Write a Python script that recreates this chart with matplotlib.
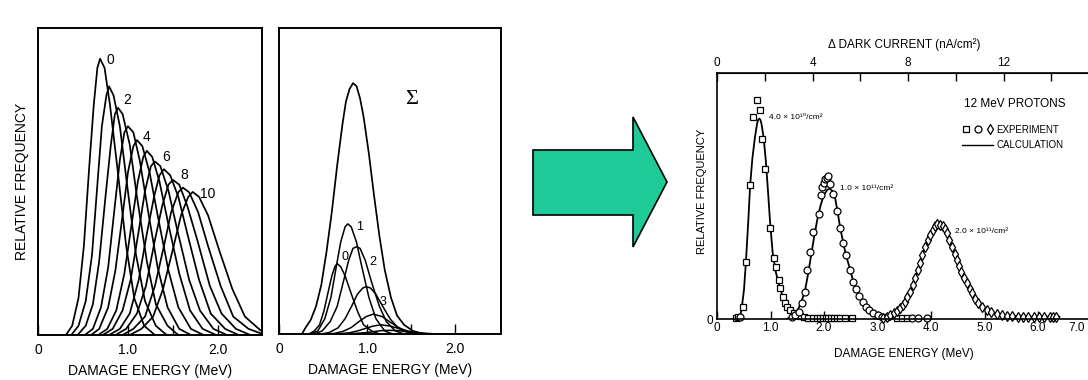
import matplotlib
matplotlib.use('Agg')
import matplotlib.pyplot as plt
import matplotlib.transforms as mtransforms
from matplotlib.patches import Polygon
from matplotlib.lines import Line2D
from matplotlib.legend_handler import HandlerTuple

plt.rcParams['font.family'] = ['Liberation Sans', 'DejaVu Sans']

# ---- left panel: spectra after n collisions (0..10) ----
spec_x = [
    [0.31, 0.38, 0.45, 0.51, 0.57, 0.62, 0.66, 0.69, 0.74, 0.80, 0.88, 0.98, 1.07, 1.18, 1.30],
    [0.37, 0.45, 0.53, 0.60, 0.66, 0.71, 0.76, 0.79, 0.84, 0.91, 0.99, 1.09, 1.19, 1.31, 1.43],
    [0.44, 0.53, 0.61, 0.68, 0.75, 0.81, 0.855, 0.89, 0.94, 1.02, 1.10, 1.21, 1.31, 1.44, 1.56],
    [0.52, 0.61, 0.70, 0.78, 0.85, 0.91, 0.96, 1.00, 1.06, 1.13, 1.22, 1.33, 1.44, 1.57, 1.70],
    [0.59, 0.68, 0.78, 0.86, 0.94, 1.00, 1.06, 1.10, 1.16, 1.24, 1.33, 1.45, 1.56, 1.70, 1.84],
    [0.67, 0.77, 0.87, 0.96, 1.04, 1.11, 1.17, 1.21, 1.27, 1.35, 1.45, 1.57, 1.69, 1.83, 1.98],
    [0.72, 0.83, 0.94, 1.03, 1.12, 1.19, 1.255, 1.30, 1.36, 1.45, 1.55, 1.68, 1.80, 1.95, 2.10],
    [0.79, 0.91, 1.02, 1.12, 1.21, 1.29, 1.35, 1.40, 1.47, 1.56, 1.66, 1.79, 1.92, 2.08, 2.23],
    [0.86, 0.98, 1.10, 1.20, 1.30, 1.38, 1.45, 1.50, 1.57, 1.66, 1.77, 1.91, 2.04, 2.20, 2.36],
    [0.94, 1.06, 1.19, 1.30, 1.40, 1.48, 1.56, 1.61, 1.68, 1.78, 1.89, 2.03, 2.17, 2.34, 2.48],
    [1.02, 1.15, 1.28, 1.39, 1.50, 1.59, 1.67, 1.72, 1.79, 1.89, 2.01, 2.16, 2.30, 2.47, 2.49],
]
spec_y = [
    [0, 0.03, 0.12, 0.29, 0.55, 0.75, 0.87, 0.90, 0.87, 0.75, 0.55, 0.29, 0.12, 0.03, 0],
    [0, 0.03, 0.11, 0.26, 0.49, 0.68, 0.78, 0.81, 0.78, 0.68, 0.49, 0.26, 0.11, 0.03, 0],
    [0, 0.03, 0.10, 0.24, 0.45, 0.62, 0.72, 0.74, 0.72, 0.62, 0.45, 0.24, 0.10, 0.03, 0],
    [0, 0.02, 0.09, 0.22, 0.41, 0.57, 0.66, 0.68, 0.66, 0.57, 0.41, 0.22, 0.09, 0.02, 0],
    [0, 0.02, 0.09, 0.21, 0.39, 0.53, 0.615, 0.635, 0.615, 0.53, 0.39, 0.21, 0.09, 0.02, 0],
    [0, 0.02, 0.08, 0.20, 0.36, 0.50, 0.58, 0.60, 0.58, 0.50, 0.36, 0.20, 0.08, 0.02, 0],
    [0, 0.02, 0.08, 0.18, 0.34, 0.47, 0.55, 0.565, 0.55, 0.47, 0.34, 0.18, 0.08, 0.02, 0],
    [0, 0.02, 0.07, 0.18, 0.33, 0.45, 0.52, 0.54, 0.52, 0.45, 0.33, 0.18, 0.07, 0.02, 0],
    [0, 0.02, 0.07, 0.16, 0.31, 0.42, 0.49, 0.505, 0.49, 0.42, 0.31, 0.16, 0.07, 0.02, 0],
    [0, 0.02, 0.06, 0.16, 0.29, 0.40, 0.465, 0.48, 0.465, 0.40, 0.29, 0.16, 0.06, 0.02, 0.005],
    [0, 0.02, 0.06, 0.15, 0.28, 0.39, 0.45, 0.466, 0.45, 0.39, 0.28, 0.15, 0.06, 0.016, 0.012],
]
spec_labels = ['0', '2', '4', '6', '8', '10']
spec_label_x = [0.80, 0.99, 1.21, 1.42, 1.63, 1.89]
spec_label_y = [0.895, 0.765, 0.645, 0.58, 0.52, 0.46]

# ---- middle panel: weighted components and their sum ----
comp_x = [
    [0.34, 0.40, 0.46, 0.51, 0.56, 0.60, 0.635, 0.66, 0.70, 0.75, 0.81, 0.89, 0.96, 1.05, 1.14],
    [0.36, 0.44, 0.52, 0.59, 0.65, 0.70, 0.75, 0.78, 0.82, 0.88, 0.94, 1.02, 1.10, 1.20, 1.29],
    [0.40, 0.49, 0.58, 0.66, 0.73, 0.79, 0.84, 0.88, 0.92, 0.98, 1.05, 1.14, 1.22, 1.32, 1.42],
    [0.48, 0.57, 0.67, 0.75, 0.83, 0.89, 0.95, 0.99, 1.04, 1.10, 1.17, 1.26, 1.35, 1.46, 1.57],
    [0.53, 0.63, 0.73, 0.82, 0.90, 0.99, 1.07, 1.17, 1.26, 1.36, 1.45, 1.56, 1.68],
    [0.58, 0.69, 0.80, 0.89, 0.98, 1.07, 1.16, 1.26, 1.36, 1.46, 1.56, 1.68, 1.80],
    [0.64, 0.76, 0.87, 0.97, 1.06, 1.16, 1.25, 1.36, 1.46, 1.57, 1.67, 1.80, 1.92],
]
comp_y = [
    [0, 0.01, 0.03, 0.075, 0.14, 0.19, 0.22, 0.23, 0.22, 0.19, 0.14, 0.075, 0.03, 0.01, 0],
    [0, 0.01, 0.05, 0.12, 0.22, 0.30, 0.35, 0.36, 0.35, 0.30, 0.22, 0.12, 0.05, 0.01, 0],
    [0, 0.01, 0.04, 0.09, 0.17, 0.24, 0.28, 0.285, 0.28, 0.24, 0.17, 0.09, 0.04, 0.01, 0],
    [0, 0.005, 0.02, 0.05, 0.094, 0.13, 0.15, 0.155, 0.15, 0.13, 0.094, 0.05, 0.02, 0.005, 0],
    [0, 0.002, 0.009, 0.021, 0.039, 0.057, 0.065, 0.057, 0.039, 0.021, 0.009, 0.002, 0],
    [0, 0.001, 0.004, 0.01, 0.018, 0.026, 0.03, 0.026, 0.018, 0.01, 0.004, 0.001, 0],
    [0, 0, 0.002, 0.004, 0.007, 0.011, 0.012, 0.011, 0.007, 0.004, 0.002, 0, 0],
]
sum_x = [0.26, 0.30, 0.36, 0.42, 0.48, 0.54, 0.60, 0.66, 0.72, 0.76, 0.80, 0.84, 0.88, 0.92,
         0.96, 1.02, 1.08, 1.14, 1.20, 1.27, 1.34, 1.42, 1.52, 1.65]
sum_y = [0, 0.02, 0.046, 0.09, 0.16, 0.27, 0.40, 0.55, 0.685, 0.76, 0.80, 0.82, 0.81, 0.77,
         0.71, 0.59, 0.45, 0.32, 0.21, 0.12, 0.06, 0.03, 0.01, 0]
comp_labels = ['0', '1', '2', '3']
comp_label_x = [0.75, 0.91, 1.06, 1.18]
comp_label_y = [0.25, 0.35, 0.235, 0.105]

# ---- right panel: 12 MeV protons, experiment vs calculation ----
calc_a_x = [0.42, 0.46, 0.505, 0.54, 0.585, 0.62, 0.66, 0.71, 0.75, 0.77, 0.79, 0.81, 0.83, 0.87,
            0.91, 0.95, 0.99, 1.04, 1.10, 1.17, 1.24, 1.32, 1.46, 1.68]
calc_a_y = [0.0, 0.04, 0.12, 0.23, 0.40, 0.545, 0.65, 0.74, 0.795, 0.81, 0.815, 0.81, 0.795, 0.74,
            0.65, 0.53, 0.40, 0.27, 0.19, 0.13, 0.085, 0.05, 0.02, 0.0]
calc_b_x = [1.30, 1.40, 1.48, 1.56, 1.64, 1.70, 1.76, 1.82, 1.88, 1.94, 2.00, 2.06, 2.11, 2.16,
            2.21, 2.25, 2.30, 2.35, 2.41, 2.49, 2.55, 2.64, 2.73, 2.86, 3.02, 3.17, 3.35]
calc_b_y = [0.0, 0.01, 0.025, 0.06, 0.11, 0.18, 0.26, 0.34, 0.41, 0.465, 0.505, 0.525, 0.53, 0.52,
            0.49, 0.44, 0.375, 0.32, 0.26, 0.20, 0.15, 0.104, 0.064, 0.034, 0.016, 0.007, 0.0]
calc_c_x = [2.95, 3.10, 3.20, 3.30, 3.42, 3.51, 3.61, 3.70, 3.79, 3.89, 3.98, 4.06, 4.14, 4.22,
            4.29, 4.39, 4.48, 4.57, 4.67, 4.76, 4.88, 5.04, 5.23, 5.48, 5.85, 6.22, 6.40]
calc_c_y = [0.0, 0.004, 0.01, 0.023, 0.043, 0.07, 0.111, 0.165, 0.226, 0.294, 0.34, 0.362, 0.37,
            0.362, 0.348, 0.294, 0.24, 0.192, 0.145, 0.104, 0.064, 0.037, 0.02, 0.012, 0.009,
            0.009, 0.009]

exp_sq = [(0.36, 0.005), (0.40, 0.01), (0.49, 0.05), (0.54, 0.23), (0.617, 0.545), (0.667, 0.82),
          (0.74, 0.89), (0.80, 0.85), (0.84, 0.73), (0.90, 0.61), (0.99, 0.37), (1.065, 0.25),
          (1.10, 0.21), (1.15, 0.16), (1.18, 0.125), (1.23, 0.09), (1.27, 0.064), (1.31, 0.05),
          (1.36, 0.037), (1.43, 0.023), (1.49, 0.018), (1.55, 0.012), (1.62, 0.008), (1.70, 0.005),
          (1.80, 0.004), (1.87, 0.004), (1.93, 0.004), (1.98, 0.004), (2.03, 0.004), (2.08, 0.004),
          (2.13, 0.004), (2.18, 0.004), (2.24, 0.004), (2.30, 0.004), (2.40, 0.004), (2.52, 0.004),
          (3.36, 0.004), (3.45, 0.004), (3.55, 0.004)]
exp_ci = [(0.43, 0.01), (1.40, 0.01), (1.46, 0.016), (1.53, 0.03), (1.58, 0.064), (1.645, 0.111),
          (1.69, 0.199), (1.74, 0.274), (1.80, 0.355), (1.91, 0.427), (1.94, 0.504), (1.96, 0.538),
          (2.00, 0.554), (2.02, 0.568), (2.05, 0.572), (2.08, 0.58), (2.12, 0.55), (2.17, 0.51),
          (2.24, 0.44), (2.30, 0.37), (2.36, 0.31), (2.42, 0.26), (2.49, 0.20), (2.55, 0.15),
          (2.60, 0.12), (2.66, 0.095), (2.72, 0.07), (2.78, 0.05), (2.85, 0.035), (2.92, 0.025),
          (3.00, 0.016), (3.08, 0.01), (3.17, 0.007), (3.65, 0.005), (3.75, 0.005), (3.92, 0.005)]
exp_di = [(3.10, 0.005), (3.17, 0.009), (3.24, 0.016), (3.30, 0.023), (3.36, 0.033), (3.42, 0.043),
          (3.47, 0.055), (3.51, 0.07), (3.56, 0.09), (3.61, 0.111), (3.66, 0.14), (3.70, 0.165),
          (3.75, 0.20), (3.79, 0.226), (3.84, 0.26), (3.89, 0.294), (3.94, 0.32), (3.98, 0.34),
          (4.03, 0.36), (4.07, 0.38), (4.12, 0.385), (4.17, 0.383), (4.23, 0.38), (4.26, 0.365),
          (4.29, 0.348), (4.34, 0.32), (4.39, 0.294), (4.44, 0.265), (4.48, 0.24), (4.53, 0.215),
          (4.57, 0.192), (4.62, 0.168), (4.67, 0.145), (4.72, 0.122), (4.76, 0.104), (4.82, 0.082),
          (4.88, 0.064), (4.95, 0.05), (5.04, 0.037), (5.12, 0.028), (5.23, 0.02), (5.33, 0.016),
          (5.42, 0.013), (5.52, 0.011), (5.62, 0.01), (5.72, 0.009), (5.82, 0.009), (5.92, 0.009),
          (6.02, 0.009), (6.12, 0.009), (6.22, 0.009), (6.28, 0.009), (6.33, 0.009)]

fluences = ['4.0 × 10¹⁰/cm²', '1.0 × 10¹¹/cm²', '2.0 × 10¹¹/cm²']
fluence_x = [0.98, 2.30, 4.45]
fluence_y = [0.82, 0.53, 0.355]

energy_ticks = [0, 1, 2, 3, 4, 5, 6, 7]
energy_ticklabels = ['0', '1.0', '2.0', '3.0', '4.0', '5.0', '6.0', '7.0']
current_ticks = [0, 4, 8, 12]
current_minor = [2, 6, 10, 14]
nA_per_MeV = 2.24

W, H = 1088, 380
fig = plt.figure(figsize=(W / 100, H / 100), dpi=100)


def box(l, t, r, b):
    return [l / W, 1 - b / H, (r - l) / W, (b - t) / H]


def frame(ax, lw=1.4):
    for s in ax.spines.values():
        s.set_linewidth(lw)


# left panel
ax1 = fig.add_axes(box(38, 28, 262, 335))
for xs, ys in zip(spec_x, spec_y):
    ax1.plot(xs, ys, color='black', lw=1.25)
for t, x, y in zip(spec_labels, spec_label_x, spec_label_y):
    ax1.text(x, y, t, fontsize=10, ha='center', va='center')
ax1.set_xlim(0, 2.49)
ax1.set_ylim(0, 1)
ax1.set_xticks([0, 1, 2], ['0', '1.0', '2.0'])
ax1.set_xticks([1.5], minor=True)
ax1.set_yticks([])
ax1.tick_params(axis='x', which='both', direction='in', length=7, width=1, pad=6, labelsize=10)
ax1.set_xlabel('DAMAGE ENERGY (MeV)', fontsize=10, labelpad=5)
ax1.set_ylabel('RELATIVE FREQUENCY', fontsize=10)
ax1.yaxis.set_label_coords(-0.04, 0.5)
frame(ax1)

# middle panel
ax2 = fig.add_axes(box(279, 28, 501, 334))
for xs, ys in zip(comp_x, comp_y):
    ax2.plot(xs, ys, color='black', lw=1.1)
ax2.plot(sum_x, sum_y, color='black', lw=1.25)
for t, x, y in zip(comp_labels, comp_label_x, comp_label_y):
    ax2.text(x, y, t, fontsize=9, ha='center', va='center')
ax2.text(1.51, 0.765, 'Σ', fontsize=16, family='Liberation Serif', ha='center', va='center')
ax2.set_xlim(0, 2.52)
ax2.set_ylim(0, 1)
ax2.set_xticks([0, 1, 2], ['0', '1.0', '2.0'])
ax2.set_xticks([1.5], minor=True)
ax2.set_yticks([])
ax2.tick_params(axis='x', which='both', direction='in', length=7, width=1, pad=6, labelsize=10)
ax2.set_xlabel('DAMAGE ENERGY (MeV)', fontsize=10, labelpad=5)
frame(ax2)

# arrow between the two pictures
arrow_px = [(533, 150), (633, 150), (633, 117), (667, 182), (633, 247), (633, 215), (533, 215)]
fig.patches.append(Polygon([(x / W, 1 - y / H) for x, y in arrow_px], closed=True,
                           transform=fig.transFigure, facecolor='#1ecb98',
                           edgecolor='black', lw=1.2))

# right panel
ax3 = fig.add_axes(box(717, 73, 1091.5, 319))
ax3.plot(calc_a_x, calc_a_y, color='black', lw=1.3)
ax3.plot(calc_b_x, calc_b_y, color='black', lw=1.3)
ax3.plot(calc_c_x, calc_c_y, color='black', lw=1.3)
mk = dict(ls='none', mfc='white', mec='black', mew=0.9, ms=5)
sx, sy = zip(*exp_sq)
cx, cy = zip(*exp_ci)
dx, dy = zip(*exp_di)
ax3.plot(sx, sy, marker='s', clip_on=False, **mk)
ax3.plot(cx, cy, marker='o', clip_on=False, **mk)
ax3.plot(dx, dy, marker='d', clip_on=False, **mk)
for t, x, y in zip(fluences, fluence_x, fluence_y):
    ax3.text(x, y, t, fontsize=6, va='center')
ax3.text(5.57, 0.874, '12 MeV PROTONS', fontsize=8.5, ha='center', va='center')

h_sq = Line2D([], [], marker='s', **mk)
h_ci = Line2D([], [], marker='o', **mk)
h_di = Line2D([], [], marker='d', **mk)
h_ln = Line2D([], [], color='black', lw=1.0)
ax3.legend([(h_sq, h_ci, h_di), h_ln], ['EXPERIMENT', 'CALCULATION'],
           handler_map={tuple: HandlerTuple(ndivide=None, pad=0.6)},
           loc='upper left', bbox_to_anchor=(0.655, 0.79), frameon=False, fontsize=7,
           handlelength=3.2, handletextpad=0.3, labelspacing=0.6, borderpad=0, borderaxespad=0)

ax3.set_xlim(0, 7.0)
ax3.set_ylim(0, 1)
ax3.set_xticks(energy_ticks, energy_ticklabels)
ax3.set_yticks([0], ['0'])
ax3.tick_params(axis='x', direction='in', length=6, width=1, pad=2, labelsize=8.5)
ax3.tick_params(axis='y', length=0, pad=3, labelsize=8.5)
ax3.set_xlabel('DAMAGE ENERGY (MeV)', fontsize=8.5, labelpad=10)
ax3.set_ylabel('RELATIVE FREQUENCY', fontsize=8)
ax3.yaxis.set_label_coords(-0.028, 0.52)
frame(ax3, 1.2)

# the last energy label sits at the picture edge: keep it inside
last = ax3.xaxis.get_major_ticks()[-1].label1
last.set_horizontalalignment('right')
last.set_transform(last.get_transform() +
                   mtransforms.ScaledTranslation(-5 / 72, 0, fig.dpi_scale_trans))

top = ax3.secondary_xaxis('top', functions=(lambda e: e * nA_per_MeV, lambda d: d / nA_per_MeV))
top.set_xticks(current_ticks, [str(v) for v in current_ticks])
top.set_xticks(current_minor, minor=True)
top.tick_params(axis='x', which='both', direction='in', length=6, width=1, pad=3, labelsize=8.5)
top.set_xlabel('Δ DARK CURRENT (nA/cm²)', fontsize=8.5, labelpad=6)

fig.savefig('out.png', dpi=100)
